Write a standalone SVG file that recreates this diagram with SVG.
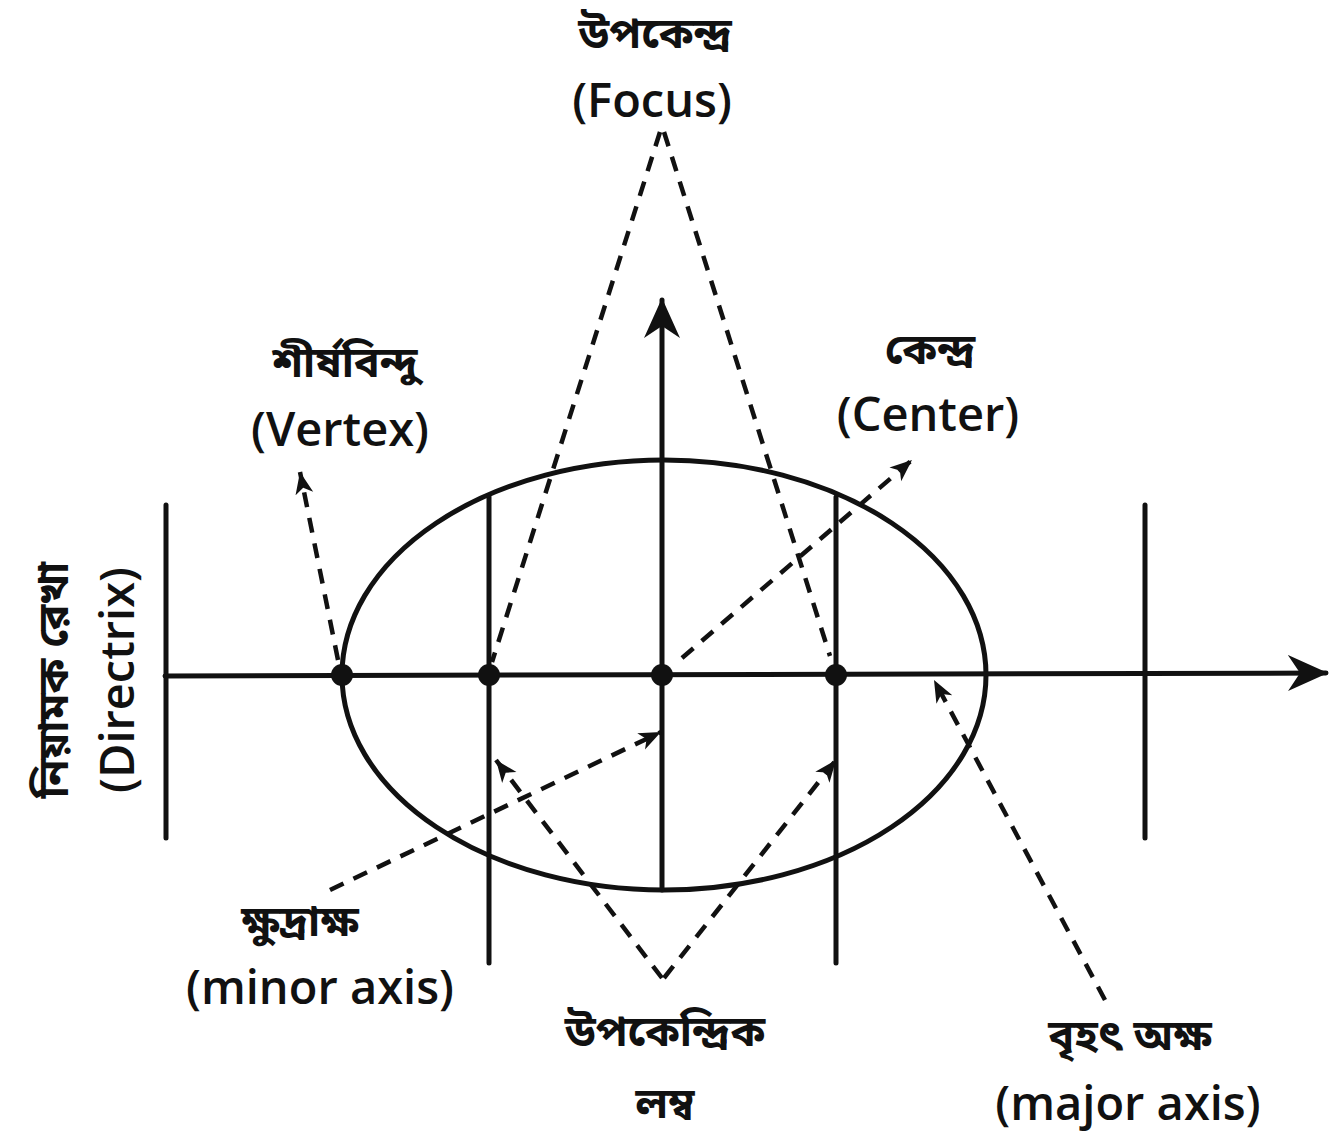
<svg xmlns="http://www.w3.org/2000/svg" width="1331" height="1142" viewBox="0 0 1331 1142">
<style>
.s{stroke:#111;stroke-width:5;fill:none;stroke-linecap:round}
.d{stroke:#111;stroke-width:4.5;fill:none;stroke-dasharray:15 11}
.t{font-family:"Open Sans","Noto Sans","Noto Sans Bengali",sans-serif;font-size:47px;font-weight:600;fill:#111;text-anchor:middle}
.b{font-family:"Noto Sans Bengali","Noto Sans","Open Sans",sans-serif;font-size:43px;font-weight:bold;fill:#111;text-anchor:middle}
</style>
<defs>
<marker id="ax" markerUnits="userSpaceOnUse" markerWidth="44" markerHeight="44" viewBox="0 0 44 44" refX="38" refY="22" orient="auto">
<path d="M0,4 L40,22 L0,40 L12,22 z" fill="#111"/>
</marker>
<marker id="da" markerUnits="userSpaceOnUse" markerWidth="24" markerHeight="20" viewBox="0 0 24 20" refX="22" refY="10" orient="auto">
<path d="M0,1 L22,10 L0,19 L6,10 z" fill="#111"/>
</marker>
</defs>
<rect width="1331" height="1142" fill="#fff"/>
<g id="ellipse"><ellipse cx="664" cy="675" rx="322" ry="215" class="s"/></g>
<g id="axes">
<line x1="165" y1="676" x2="1326" y2="673" class="s" marker-end="url(#ax)"/>
<line x1="662" y1="890" x2="662" y2="300" class="s" marker-end="url(#ax)"/>
</g>
<g id="latus-lines">
<line x1="489" y1="497" x2="489" y2="963" class="s"/>
<line x1="836" y1="497" x2="836" y2="963" class="s"/>
</g>
<g id="directrix-lines">
<line x1="166" y1="505" x2="166" y2="838" class="s"/>
<line x1="1145" y1="505" x2="1145" y2="838" class="s"/>
</g>
<g id="points" fill="#111">
<circle cx="342" cy="675" r="11"/>
<circle cx="489" cy="675" r="11"/>
<circle cx="662" cy="675" r="11"/>
<circle cx="836" cy="675" r="11"/>
</g>
<g id="connectors">
<line x1="660" y1="132" x2="492" y2="662" class="d"/>
<line x1="664" y1="132" x2="830" y2="656" class="d"/>
<line x1="338" y1="660" x2="300" y2="472" class="d" marker-end="url(#da)"/>
<line x1="682" y1="658" x2="912" y2="460" class="d" marker-end="url(#da)"/>
<line x1="330" y1="890" x2="661" y2="732" class="d" marker-end="url(#da)"/>
<line x1="662" y1="978" x2="496" y2="760" class="d" marker-end="url(#da)"/>
<line x1="664" y1="978" x2="836" y2="760" class="d" marker-end="url(#da)"/>
<line x1="1105" y1="1000" x2="934" y2="680" class="d" marker-end="url(#da)"/>
</g>
<g id="label-focus">
<text x="655" y="48" class="b">উপকেন্দ্র</text>
<text x="652" y="117" class="t">(Focus)</text>
</g>
<g id="label-vertex">
<text x="345" y="377" class="b">শীর্ষবিন্দু</text>
<text x="340" y="446" class="t">(Vertex)</text>
</g>
<g id="label-center">
<text x="930" y="364" class="b">কেন্দ্র</text>
<text x="928" y="431" class="t">(Center)</text>
</g>
<g id="label-directrix">
<text transform="translate(68,680) rotate(-90)" class="b">নিয়ামক রেখা</text>
<text transform="translate(134,680) rotate(-90)" class="t">(Directrix)</text>
</g>
<g id="label-minor">
<text x="300" y="936" class="b">ক্ষুদ্রাক্ষ</text>
<text x="320" y="1004" class="t">(minor axis)</text>
</g>
<g id="label-latus">
<text x="665" y="1046" class="b">উপকেন্দ্রিক</text>
<text x="665" y="1118" class="b">লম্ব</text>
</g>
<g id="label-major">
<text x="1130" y="1050" class="b">বৃহৎ অক্ষ</text>
<text x="1128" y="1120" class="t">(major axis)</text>
</g>
</svg>
